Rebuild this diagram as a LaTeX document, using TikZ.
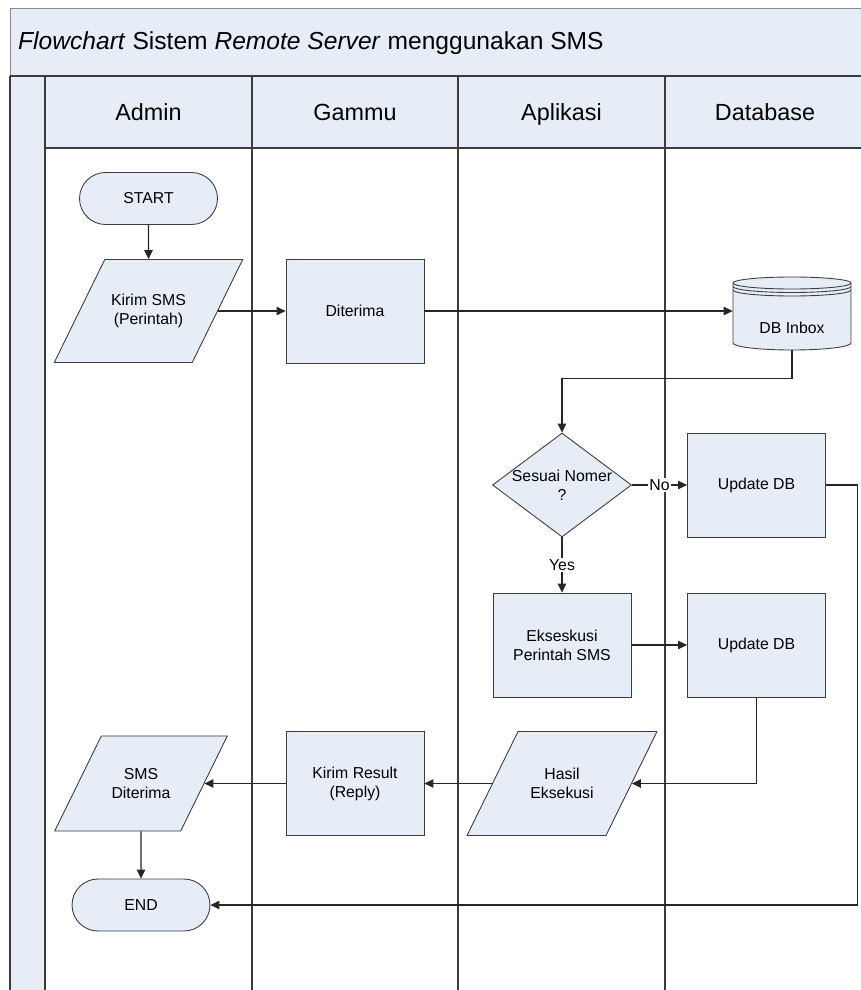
\documentclass[tikz,border=0pt]{standalone}
\usepackage{fontspec}
\setmainfont{Liberation Sans}
\usetikzlibrary{shapes,arrows.meta,positioning}
\definecolor{flowfill}{RGB}{231,237,247}
\definecolor{lineclr}{RGB}{60,60,60}

\begin{document}
\begin{tikzpicture}[
    x=0.02cm, y=-0.02cm,
    >={Triangle[length=1.8mm,width=1.7mm]},
    font=\fontsize{9}{10.8}\selectfont,
    process/.style={rectangle, draw=lineclr, fill=flowfill, line width=0.5pt, minimum width=2.76cm, minimum height=2.08cm, align=center},
    terminal/.style={rectangle, rounded corners=0.52cm, draw=lineclr, fill=flowfill, line width=0.5pt, minimum width=2.76cm, minimum height=1.04cm},
    iobox/.style={rectangle, xslant=0.49, draw=lineclr, fill=flowfill, line width=0.5pt, minimum width=2.76cm, minimum height=2.06cm},
    iotext/.style={align=center},
    decision/.style={diamond, aspect=1.33, draw=lineclr, fill=flowfill, line width=0.5pt, minimum width=2.78cm, minimum height=2.08cm, inner sep=-0.6pt, align=center},
    lanehead/.style={font=\fontsize{13.3}{16}\selectfont, text height=1.6ex, text depth=0.4ex},
    lane/.style={draw=lineclr, line width=0.8pt},
    conn/.style={->, draw=black!85, line width=0.6pt},
    tag/.style={fill=white, inner sep=1pt},
]
    \useasboundingbox (0,0) rectangle (861,990);

    % Title band and swimlanes
    \fill[flowfill] (10,8) rectangle (870,76);
    \fill[flowfill] (10,76) rectangle (45,1000);
    \fill[flowfill] (45,76) rectangle (870,148);
    \draw[lineclr!60, line width=0.5pt] (870,8) -- (10,8) -- (10,76);
    \draw[lane] (10,76) -- (870,76);
    \draw[lane] (45,148) -- (870,148);
    \draw[lane] (10,76) -- (10,1000);
    \foreach \x in {45,252,458,665}
        \draw[lane] (\x,76) -- (\x,1000);

    \node[anchor=west, font=\fontsize{14}{17}\selectfont] (title) at (12,43)
        {\textit{Flowchart} Sistem \textit{Remote Server} menggunakan SMS};
    \foreach \name/\x in {Admin/148.5, Gammu/355, Aplikasi/561.5, Database/765}
        \node[lanehead] (head-\name) at (\x,115) {\name};

    % Admin
    \node[terminal] (start) at (148.5,198.5) {START};
    \node[iobox] (kirim) at (148.5,311) {};
    \node[iotext] (kirimtxt) at (kirim) {Kirim SMS\\(Perintah)};
    \node[iobox, minimum width=2.52cm, minimum height=1.9cm] (smsterima) at (141,783.5) {};
    \node[iotext] (smsterimatxt) at (smsterima) {SMS\\Diterima};
    \node[terminal] (end) at (141,905) {END};

    % Gammu
    \node[process] (terima) at (355,311) {Diterima};
    \node[process] (balas) at (355,783.5) {Kirim Result\\(Reply)};

    % Aplikasi
    \node[decision] (cek) at (562,485) {Sesuai Nomer\\?};
    \node[process] (exec) at (562,645) {Ekseskusi\\Perintah SMS};
    \node[iobox, minimum width=2.78cm, minimum height=2.08cm] (hasil) at (562,783.5) {};
    \node[iotext] (hasiltxt) at (hasil) {Hasil\\Eksekusi};

    % Database
    \node[minimum width=2.36cm, minimum height=1.46cm, inner sep=0] (inbox) at (792,313) {};
    \draw[draw=lineclr, fill=flowfill, line width=0.5pt] (733,283) -- (733,343)
        arc[start angle=180, end angle=360, x radius=1.18cm, y radius=0.14cm] -- (851,283)
        arc[start angle=0, end angle=180, x radius=1.18cm, y radius=0.12cm] -- cycle;
    \foreach \dy in {0,3.5,7}
        \draw[lineclr, line width=0.5pt] (733,283+\dy) arc[start angle=180, end angle=360, x radius=1.18cm, y radius=0.12cm];
    \node (inboxlabel) at (792,328) {DB Inbox};
    \node[process] (upd1) at (756.5,485) {Update DB};
    \node[process] (upd2) at (756.5,645) {Update DB};

    % Connections
    \draw[conn] (start) -- (kirim);
    \draw[conn] (kirim) -- (terima);
    \draw[conn] (terima.east) -- (terima.east -| inbox.west);
    \draw[conn] (inbox.south) -- ++(0,29) -| (cek.north);
    \draw[conn] (cek) -- node[tag] {No} (upd1);
    \draw[conn] (cek) -- node[tag] {Yes} (exec);
    \draw[conn] (upd1.east) -- ++(32,0) |- (end.east);
    \draw[conn] (exec) -- (upd2);
    \draw[conn] (upd2.south) |- (hasil.east);
    \draw[conn] (hasil) -- (balas);
    \draw[conn] (balas) -- (smsterima);
    \draw[conn] (smsterima) -- (end);
\end{tikzpicture}
\end{document}
